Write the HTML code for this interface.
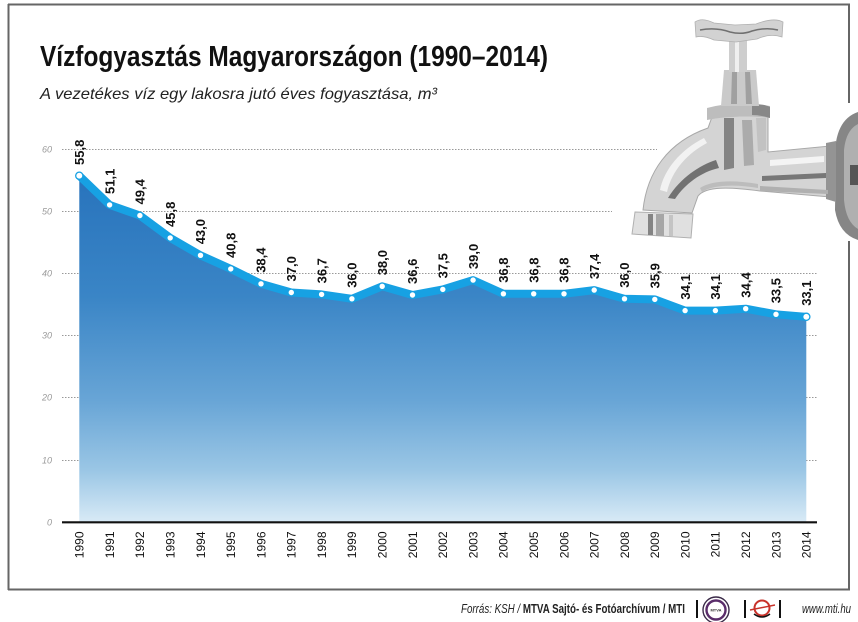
<!DOCTYPE html>
<html>
<head>
<meta charset="utf-8">
<style>
  html,body{margin:0;padding:0;background:#fff;}
  svg{display:block;}
  text{font-family:"Liberation Sans", sans-serif;}
</style>
</head>
<body>
<svg width="858" height="622" viewBox="0 0 858 622" xmlns="http://www.w3.org/2000/svg">
  <defs>
    <linearGradient id="ag" x1="0" y1="175" x2="0" y2="522" gradientUnits="userSpaceOnUse">
      <stop offset="0" stop-color="#2873bc"/>
      <stop offset="0.35" stop-color="#3a85c6"/>
      <stop offset="0.65" stop-color="#68a5d6"/>
      <stop offset="0.85" stop-color="#9ac6e5"/>
      <stop offset="1" stop-color="#d8eaf6"/>
    </linearGradient>
  </defs>
  <rect width="858" height="622" fill="#fff"/>

  <!-- frame -->
  <g stroke="#666" stroke-width="2" fill="none">
    <line x1="8" y1="4.5" x2="850" y2="4.5"/>
    <line x1="8.5" y1="4" x2="8.5" y2="590"/>
    <line x1="8" y1="589.5" x2="850" y2="589.5"/>
    <line x1="849" y1="4" x2="849" y2="103"/>
    <line x1="849" y1="241" x2="849" y2="590"/>
  </g>

  <!-- title -->
  <text x="40" y="66" font-size="29" font-weight="bold" fill="#111" textLength="508" lengthAdjust="spacingAndGlyphs">Vízfogyasztás Magyarországon (1990–2014)</text>
  <text x="40" y="99" font-size="16" font-style="italic" fill="#222" textLength="397" lengthAdjust="spacingAndGlyphs">A vezetékes víz egy lakosra jutó éves fogyasztása, m³</text>

  <!-- gridlines -->
  <g stroke="#999" stroke-width="1" stroke-dasharray="1.5,1.5">
    <line x1="62" y1="149.5" x2="657" y2="149.5"/>
    <line x1="62" y1="211.5" x2="612" y2="211.5"/>
    <line x1="62" y1="273.5" x2="817" y2="273.5"/>
    <line x1="62" y1="335.5" x2="817" y2="335.5"/>
    <line x1="62" y1="397.5" x2="817" y2="397.5"/>
    <line x1="62" y1="460.5" x2="817" y2="460.5"/>
  </g>
  <g font-size="9" font-style="italic" fill="#9a9a9a" text-anchor="end">
    <text x="52" y="152.5">60</text>
    <text x="52" y="214.5">50</text>
    <text x="52" y="276.5">40</text>
    <text x="52" y="338.5">30</text>
    <text x="52" y="400.5">20</text>
    <text x="52" y="463.5">10</text>
    <text x="52" y="525.5">0</text>
  </g>

  <!-- area -->
  <polygon fill="url(#ag)" points="79.3,175.7 109.6,204.9 139.9,215.5 170.2,237.9 200.5,255.3 230.75,268.9 261.0,283.8 291.3,292.5 321.6,294.4 351.9,298.8 382.2,286.3 412.5,295.0 442.8,289.4 473.1,280.1 503.4,293.8 533.7,293.8 564.0,293.8 594.2,290.1 624.5,298.8 654.8,299.4 685.1,310.6 715.4,310.6 745.7,308.7 776.0,314.3 806.3,316.8 806.3,522 79.3,522"/>

  <!-- band -->
  <polyline fill="none" stroke="#17a1e3" stroke-width="8" stroke-linejoin="round" stroke-linecap="round" points="79.3,175.7 109.6,204.9 139.9,215.5 170.2,237.9 200.5,255.3 230.75,268.9 261.0,283.8 291.3,292.5 321.6,294.4 351.9,298.8 382.2,286.3 412.5,295.0 442.8,289.4 473.1,280.1 503.4,293.8 533.7,293.8 564.0,293.8 594.2,290.1 624.5,298.8 654.8,299.4 685.1,310.6 715.4,310.6 745.7,308.7 776.0,314.3 806.3,316.8"/>

  <!-- markers -->
  <g fill="#fff">
    <circle cx="79.3" cy="175.7" r="3.6" stroke="#17a1e3" stroke-width="1.3"/>
    <circle cx="109.6" cy="204.9" r="2.7"/>
    <circle cx="139.9" cy="215.5" r="2.7"/>
    <circle cx="170.2" cy="237.9" r="2.7"/>
    <circle cx="200.5" cy="255.3" r="2.7"/>
    <circle cx="230.75" cy="268.9" r="2.7"/>
    <circle cx="261.0" cy="283.8" r="2.7"/>
    <circle cx="291.3" cy="292.5" r="2.7"/>
    <circle cx="321.6" cy="294.4" r="2.7"/>
    <circle cx="351.9" cy="298.8" r="2.7"/>
    <circle cx="382.2" cy="286.3" r="2.7"/>
    <circle cx="412.5" cy="295.0" r="2.7"/>
    <circle cx="442.8" cy="289.4" r="2.7"/>
    <circle cx="473.1" cy="280.1" r="2.7"/>
    <circle cx="503.4" cy="293.8" r="2.7"/>
    <circle cx="533.7" cy="293.8" r="2.7"/>
    <circle cx="564.0" cy="293.8" r="2.7"/>
    <circle cx="594.2" cy="290.1" r="2.7"/>
    <circle cx="624.5" cy="298.8" r="2.7"/>
    <circle cx="654.8" cy="299.4" r="2.7"/>
    <circle cx="685.1" cy="310.6" r="2.7"/>
    <circle cx="715.4" cy="310.6" r="2.7"/>
    <circle cx="745.7" cy="308.7" r="2.7"/>
    <circle cx="776.0" cy="314.3" r="2.7"/>
    <circle cx="806.3" cy="316.8" r="3.6" stroke="#17a1e3" stroke-width="1.3"/>
  </g>

  <!-- data labels -->
  <g font-size="13" font-weight="bold" fill="#111">
    <text transform="translate(84,165) rotate(-90)">55,8</text>
    <text transform="translate(114.3,194) rotate(-90)">51,1</text>
    <text transform="translate(144.6,204.5) rotate(-90)">49,4</text>
    <text transform="translate(174.9,227) rotate(-90)">45,8</text>
    <text transform="translate(205.2,244.3) rotate(-90)">43,0</text>
    <text transform="translate(235.45,258) rotate(-90)">40,8</text>
    <text transform="translate(265.7,272.8) rotate(-90)">38,4</text>
    <text transform="translate(296,281.5) rotate(-90)">37,0</text>
    <text transform="translate(326.3,283.4) rotate(-90)">36,7</text>
    <text transform="translate(356.6,287.8) rotate(-90)">36,0</text>
    <text transform="translate(386.9,275.3) rotate(-90)">38,0</text>
    <text transform="translate(417.2,284) rotate(-90)">36,6</text>
    <text transform="translate(447.5,278.4) rotate(-90)">37,5</text>
    <text transform="translate(477.8,269.1) rotate(-90)">39,0</text>
    <text transform="translate(508.1,282.8) rotate(-90)">36,8</text>
    <text transform="translate(538.4,282.8) rotate(-90)">36,8</text>
    <text transform="translate(568.7,282.8) rotate(-90)">36,8</text>
    <text transform="translate(598.9,279.1) rotate(-90)">37,4</text>
    <text transform="translate(629.2,287.8) rotate(-90)">36,0</text>
    <text transform="translate(659.5,288.4) rotate(-90)">35,9</text>
    <text transform="translate(689.8,299.6) rotate(-90)">34,1</text>
    <text transform="translate(720.1,299.6) rotate(-90)">34,1</text>
    <text transform="translate(750.4,297.7) rotate(-90)">34,4</text>
    <text transform="translate(780.7,303.3) rotate(-90)">33,5</text>
    <text transform="translate(811,305.8) rotate(-90)">33,1</text>
  </g>

  <!-- axis -->
  <line x1="62" y1="522.3" x2="817" y2="522.3" stroke="#111" stroke-width="2.2"/>

  <!-- x labels -->
  <g font-size="12" fill="#111" text-anchor="end">
    <text transform="translate(83.6,531.5) rotate(-90)">1990</text>
    <text transform="translate(113.9,531.5) rotate(-90)">1991</text>
    <text transform="translate(144.2,531.5) rotate(-90)">1992</text>
    <text transform="translate(174.5,531.5) rotate(-90)">1993</text>
    <text transform="translate(204.8,531.5) rotate(-90)">1994</text>
    <text transform="translate(235.05,531.5) rotate(-90)">1995</text>
    <text transform="translate(265.3,531.5) rotate(-90)">1996</text>
    <text transform="translate(295.6,531.5) rotate(-90)">1997</text>
    <text transform="translate(325.9,531.5) rotate(-90)">1998</text>
    <text transform="translate(356.2,531.5) rotate(-90)">1999</text>
    <text transform="translate(386.5,531.5) rotate(-90)">2000</text>
    <text transform="translate(416.8,531.5) rotate(-90)">2001</text>
    <text transform="translate(447.1,531.5) rotate(-90)">2002</text>
    <text transform="translate(477.4,531.5) rotate(-90)">2003</text>
    <text transform="translate(507.7,531.5) rotate(-90)">2004</text>
    <text transform="translate(538,531.5) rotate(-90)">2005</text>
    <text transform="translate(568.3,531.5) rotate(-90)">2006</text>
    <text transform="translate(598.5,531.5) rotate(-90)">2007</text>
    <text transform="translate(628.8,531.5) rotate(-90)">2008</text>
    <text transform="translate(659.1,531.5) rotate(-90)">2009</text>
    <text transform="translate(689.4,531.5) rotate(-90)">2010</text>
    <text transform="translate(719.7,531.5) rotate(-90)">2011</text>
    <text transform="translate(750,531.5) rotate(-90)">2012</text>
    <text transform="translate(780.3,531.5) rotate(-90)">2013</text>
    <text transform="translate(810.6,531.5) rotate(-90)">2014</text>
  </g>

  <!-- faucet -->
  <g>
    <!-- wall flange -->
    <path d="M858,112 Q840,118 836,142 L835,210 Q839,234 858,240 Z" fill="#868686"/>
    <path d="M858,124 Q846,130 844,150 L844,200 Q846,222 858,229 Z" fill="#b0b0b0"/>
    <path d="M850,165 L858,165 L858,185 L850,185 Z" fill="#555"/>
    <!-- main silhouette: spout + body + pipe -->
    <path d="M643,210 C647,172 668,142 708,128 L712,117 L768,115 L768,152 L830,146 L830,197 L760,191 C730,187 706,186 698,196 L692,213 Z" fill="#d4d4d4" stroke="#a8a8a8" stroke-width="1"/>
    <!-- pipe ring -->
    <path d="M826,143 L836,141 L836,202 L826,199 Z" fill="#949494"/>
    <!-- highlights & shadows on pipe -->
    <path d="M770,160 L824,156 L824,162 L770,166 Z" fill="#f4f4f4"/>
    <path d="M762,176 L826,173 L826,178 L762,181 Z" fill="#777"/>
    <path d="M760,186 L828,190 L828,194 L760,191 Z" fill="#b0b0b0"/>
    <!-- spout shading -->
    <path d="M716,160 C700,165 680,178 668,198 L675,199 C685,184 701,172 719,168 Z" fill="#727272"/>
    <path d="M660,190 C664,170 680,150 704,138 L707,143 C688,153 672,170 667,192 Z" fill="#f2f2f2"/>
    <path d="M700,188 C712,180 735,180 758,184 L758,188 C735,184 712,185 702,192 Z" fill="#bcbcbc"/>
    <!-- body details -->
    <path d="M724,118 L734,118 L734,168 L724,170 Z" fill="#848484"/>
    <path d="M742,120 L752,120 L754,165 L744,166 Z" fill="#ababab"/>
    <path d="M756,118 L766,118 L766,150 L758,152 Z" fill="#c2c2c2"/>
    <!-- collar -->
    <path d="M707,108 Q738,100 770,106 L770,118 Q738,114 707,120 Z" fill="#bdbdbd"/>
    <path d="M752,104 Q764,104 770,107 L770,118 Q760,115 752,115 Z" fill="#888"/>
    <!-- bonnet -->
    <path d="M724,70 L756,70 L759,106 L721,106 Z" fill="#cacaca"/>
    <path d="M732,72 L737,72 L737,104 L731,104 Z" fill="#a0a0a0"/>
    <path d="M745,72 L750,72 L752,104 L746,104 Z" fill="#a0a0a0"/>
    <!-- stem -->
    <rect x="729" y="38" width="18" height="34" fill="#cecece"/>
    <rect x="735" y="38" width="4" height="34" fill="#efefef"/>
    <!-- handle -->
    <path d="M695,22 Q702,17 714,23 L735,25 L756,24 Q774,17 783,22 L782,37 Q770,33 757,39 L736,42 L714,40 Q703,35 696,37 Z" fill="#d2d2d2" stroke="#b0b0b0" stroke-width="0.8"/>
    <path d="M700,30 Q716,27 730,32 Q742,35 752,31 Q766,27 778,30" fill="none" stroke="#707070" stroke-width="1.5"/>
    <!-- nozzle ring -->
    <path d="M635,212 L693,214 L691,238 L632,234 Z" fill="#e0e0e0" stroke="#b0b0b0" stroke-width="1"/>
    <rect x="648" y="214" width="5" height="21" fill="#848484"/>
    <rect x="656" y="214" width="8" height="22" fill="#a6a6a6"/>
    <rect x="669" y="215" width="4" height="21" fill="#c4c4c4"/>
  </g>

  <!-- footer -->
  <text x="461" y="613" font-size="13" fill="#222" textLength="224" lengthAdjust="spacingAndGlyphs"><tspan font-style="italic">Forrás: KSH / </tspan><tspan font-weight="bold">MTVA Sajtó- és Fotóarchívum / MTI</tspan></text>
  <g stroke="#111" stroke-width="2">
    <line x1="697" y1="600" x2="697" y2="618"/>
    <line x1="745" y1="600" x2="745" y2="618"/>
    <line x1="780" y1="600" x2="780" y2="618"/>
  </g>
  <circle cx="716" cy="610" r="13" fill="none" stroke="#3a2a48" stroke-width="1.4"/>
  <circle cx="716" cy="610" r="9.5" fill="none" stroke="#5a2d6a" stroke-width="2.4"/>
  <text x="716" y="611.5" font-size="4" text-anchor="middle" fill="#333" font-weight="bold">MTVA</text>
  <circle cx="762" cy="608" r="7.5" fill="none" stroke="#c8322a" stroke-width="2"/>
  <path d="M754,614 Q762,620 770,614" fill="none" stroke="#111" stroke-width="1.5"/>
  <line x1="750" y1="610" x2="775" y2="605" stroke="#c8322a" stroke-width="1.5"/>
  <text x="802" y="613" font-size="13" font-style="italic" fill="#222" textLength="49" lengthAdjust="spacingAndGlyphs">www.mti.hu</text>
</svg>
</body>
</html>
